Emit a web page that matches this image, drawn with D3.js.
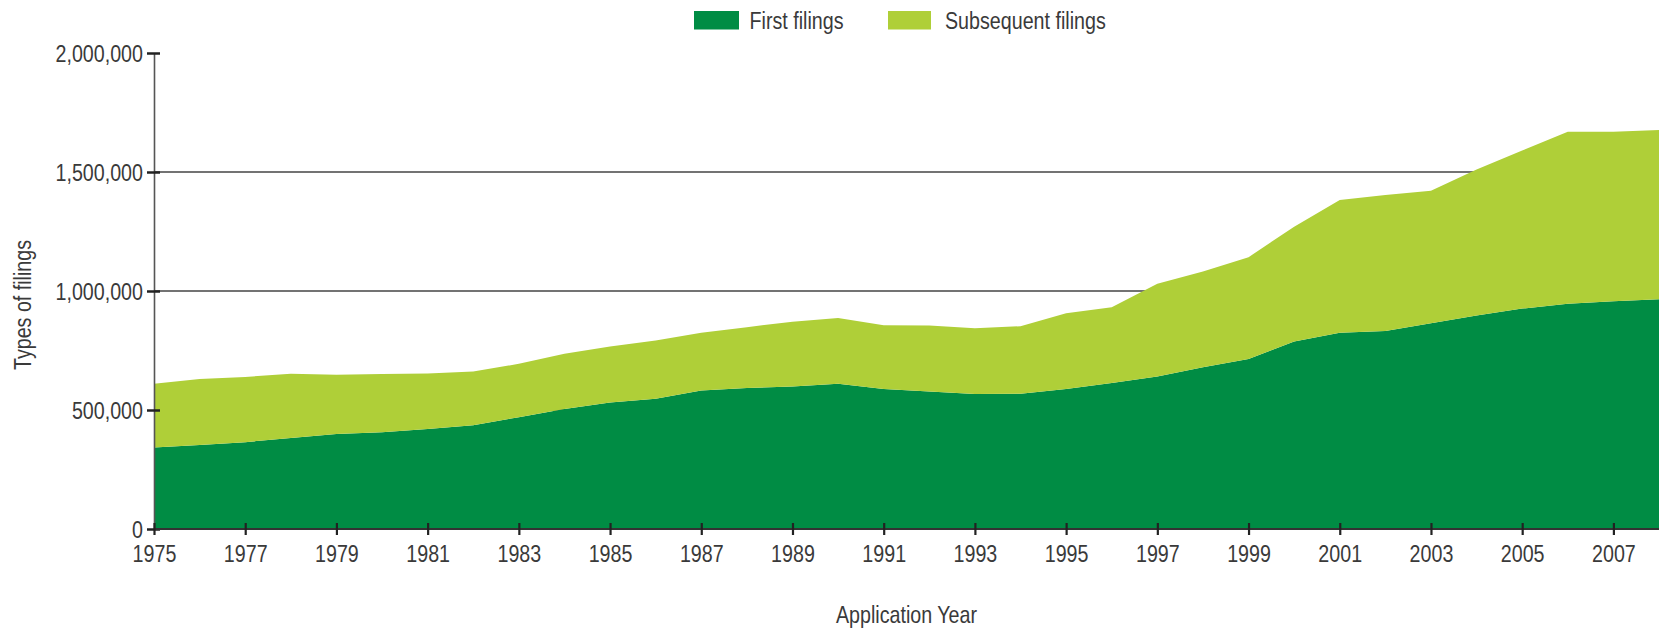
<!DOCTYPE html>
<html>
<head>
<meta charset="utf-8">
<script src="https://cdn.jsdelivr.net/npm/d3@7"></script>
<style>
  html, body { margin: 0; padding: 0; background: #fff; }
  svg { display: block; }
  text { font-family: "Liberation Sans", Arial, sans-serif; fill: #3a3a3a; }
</style>
</head>
<body>
<svg id="chart" width="1665" height="632"></svg>
<script>
// ---- data ----
const years = [1975,1976,1977,1978,1979,1980,1981,1982,1983,1984,1985,1986,1987,1988,1989,1990,1991,1992,1993,1994,1995,1996,1997,1998,1999,2000,2001,2002,2003,2004,2005,2006,2007,2008];
const firstFilings = [342000,353000,365000,382000,399000,406000,420000,436000,470000,504000,531000,547000,582000,592000,599000,610000,588000,578000,567000,568000,588000,613000,641000,680000,714000,788000,825000,832000,865000,897000,926000,946000,957000,965000];
const subsequentFilings = [268000,277000,274000,270000,249000,245000,233000,226000,224000,232000,236000,245000,243000,256000,272000,277000,268000,277000,277000,284000,319000,319000,389000,402000,428000,482000,557000,571000,556000,613000,664000,723000,712000,711000];
const seriesNames = ["First filings", "Subsequent filings"];
const seriesColors = ["#008c44", "#afcf38"];
const yTicks = [0, 500000, 1000000, 1500000, 2000000];
const gridValues = [500000, 1000000, 1500000];
const xTickYears = [1975,1977,1979,1981,1983,1985,1987,1989,1991,1993,1995,1997,1999,2001,2003,2005,2007];
const xTitle = "Application Year";
const yTitle = "Types of filings";

// ---- layout ----
const SX = 0.82; // condensed lettering
const svg = d3.select("#chart");
const x = d3.scaleLinear().domain([1975, 2008]).range([154, 1659]);
const y = d3.scaleLinear().domain([0, 2000000]).range([529, 53]);

function condense(sel) {
  sel.attr("transform", function () {
    const tx = +this.getAttribute("x") || 0;
    const ty = +this.getAttribute("y") || 0;
    return `translate(${tx},${ty}) scale(${SX},1) translate(${-tx},${-ty})`;
  });
}

const table = years.map((yr, i) => ({ year: yr, first: firstFilings[i], subsequent: subsequentFilings[i] }));
const stack = d3.stack().keys(["first", "subsequent"]);
const layers = stack(table);

// gridlines (behind areas)
svg.append("g").selectAll("line").data(gridValues).join("line")
  .attr("x1", x(1975)).attr("x2", x(2008))
  .attr("y1", d => y(d)).attr("y2", d => y(d))
  .attr("stroke", "#444").attr("stroke-width", 1.6);

// areas
const area = d3.area()
  .x(d => x(d.data.year))
  .y0(d => y(d[0]))
  .y1(d => y(d[1]))
  .curve(d3.curveLinear);

svg.append("g").selectAll("path").data(layers).join("path")
  .attr("d", area)
  .attr("fill", (d, i) => seriesColors[i]);

// y axis
const yAxis = d3.axisLeft(y).tickValues(yTicks).tickFormat(d3.format(",")).tickSize(0).tickPadding(11);
const gy = svg.append("g").attr("transform", `translate(${x(1975)},0)`).call(yAxis);
gy.select(".domain").attr("stroke", "#555").attr("stroke-width", 1.6);
gy.selectAll(".tick text").attr("font-size", 24).attr("dy", "0.35em")
  .style("font-family", '"Liberation Sans", Arial, sans-serif').attr("fill", "#3a3a3a")
  .call(condense);
gy.selectAll(".tick").append("line")
  .attr("x1", -7).attr("x2", 6).attr("stroke", "#222").attr("stroke-width", 2.5);

// x axis
const xAxis = d3.axisBottom(x).tickValues(xTickYears).tickFormat(d3.format("d")).tickSize(0).tickPadding(16);
const gx = svg.append("g").attr("transform", `translate(0,${y(0)})`).call(xAxis);
gx.select(".domain").attr("stroke", "#333").attr("stroke-width", 2).attr("d", `M${x(1975)},0H${x(2008)}`);
gx.selectAll(".tick text").attr("font-size", 24)
  .style("font-family", '"Liberation Sans", Arial, sans-serif').attr("fill", "#3a3a3a")
  .call(condense);
gx.selectAll(".tick").append("line")
  .attr("y1", -6).attr("y2", 6).attr("stroke", "#222").attr("stroke-width", 2.2);

// axis titles
svg.append("text").attr("x", (x(1975) + x(2008)) / 2).attr("y", 623)
  .attr("text-anchor", "middle").attr("font-size", 24).text(xTitle)
  .call(condense);
svg.append("text").attr("transform", `translate(31,305) rotate(-90) scale(${SX},1)`)
  .attr("text-anchor", "middle").attr("font-size", 24).text(yTitle);

// legend
const legendX = [694, 888];
const lg = svg.append("g").selectAll("g").data(seriesNames).join("g")
  .attr("transform", (d, i) => `translate(${legendX[i]},11)`);
lg.append("rect").attr("width", (d, i) => i === 0 ? 45 : 43).attr("height", 18.5)
  .attr("fill", (d, i) => seriesColors[i]);
lg.append("text").attr("x", (d, i) => i === 0 ? 55.5 : 57).attr("y", 18).attr("font-size", 24).text(d => d)
  .call(condense);
</script>
</body>
</html>
